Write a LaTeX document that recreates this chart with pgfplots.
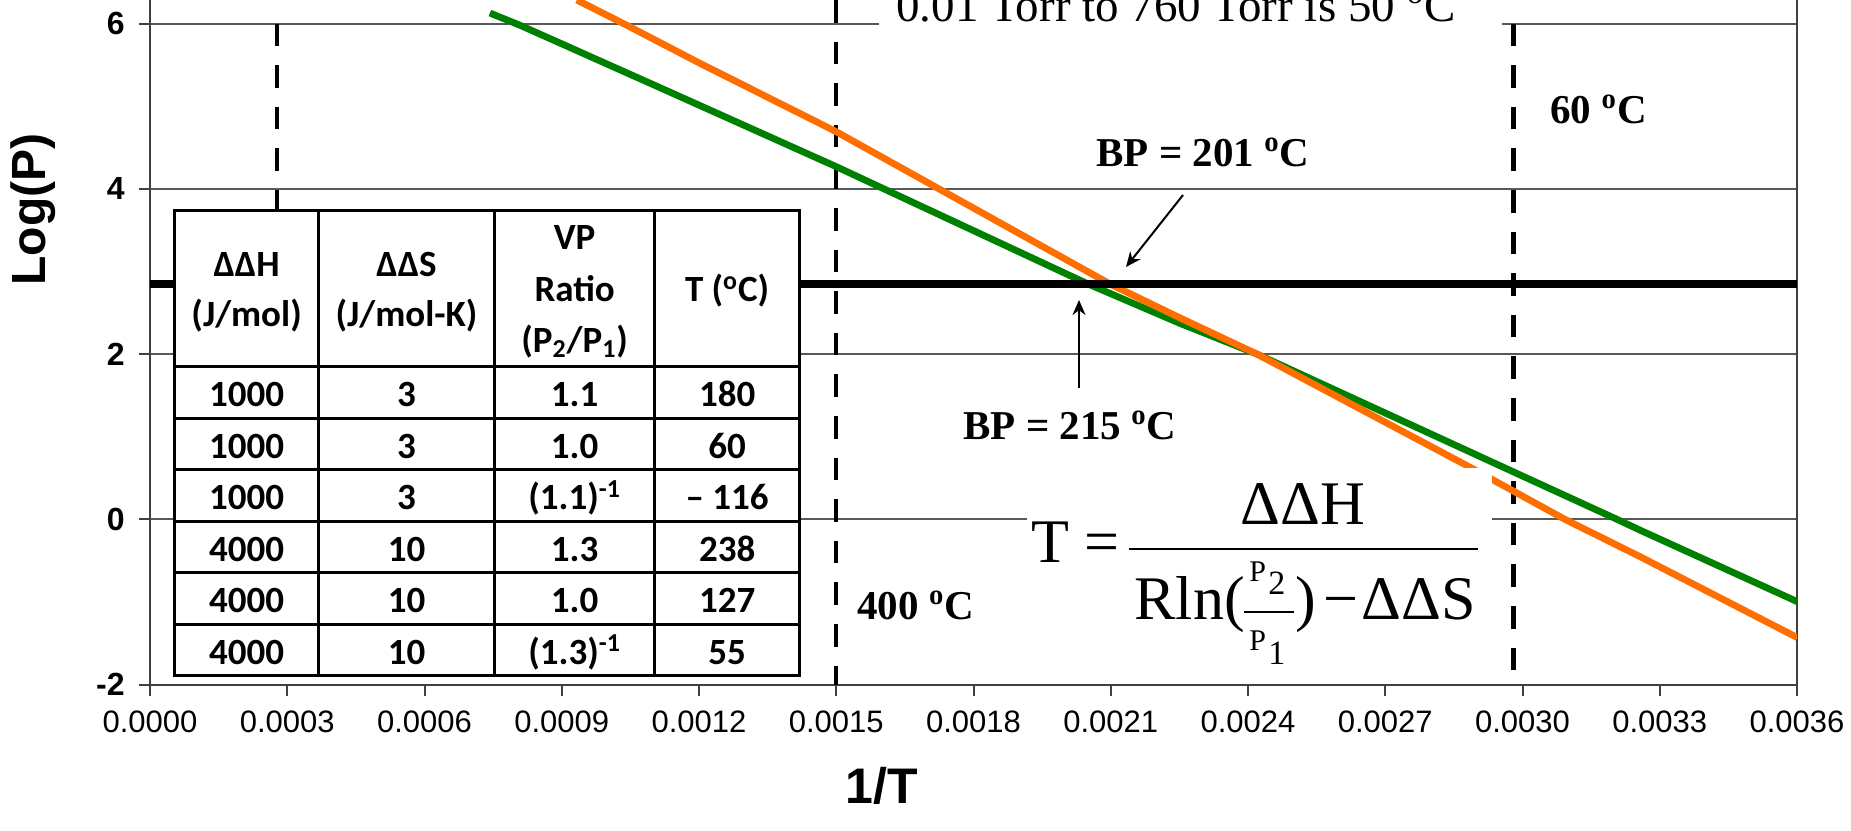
\documentclass[border=0pt]{standalone}
\usepackage{fontspec}
\setmainfont{Liberation Sans}
\newfontfamily\carl{Carlito}
\newfontfamily\tms{Liberation Serif}
\usepackage{pgfplots}
\usepackage{pgfplotstable}
\pgfplotsset{compat=1.18}
\usetikzlibrary{arrows.meta}
\definecolor{cgreen}{RGB}{0,128,0}
\definecolor{corange}{RGB}{255,110,0}

\pgfplotstableread{
x y
0.000743 6.128
0.000809 5.980
0.001137 5.170
0.001500 4.269
0.002050 2.850
0.002251 2.373
0.002420 2.000
0.002987 0.558
0.003207 0.000
0.003257 -0.130
0.003601 -0.996
}\greendata

\pgfplotstableread{
x y
0.000933 6.286
0.001038 5.992
0.001202 5.520
0.001500 4.692
0.002098 2.850
0.002251 2.440
0.002420 2.000
0.002879 0.650
0.003093 0.000
0.003257 -0.451
0.003601 -1.431
}\orangedata

\begin{document}
\begin{tikzpicture}
\begin{axis}[
  scale only axis, width=823.5pt, height=342.35pt,
  xmin=0, xmax=0.0036, ymin=-2, ymax=6.286,
  axis x line=bottom, axis y line=box, ytick pos=left,
  axis line style={-, black!75, line width=1pt},
  clip mode=individual,
  xtick={0,0.0003,0.0006,0.0009,0.0012,0.0015,0.0018,0.0021,0.0024,0.0027,0.0030,0.0033,0.0036},
  xticklabels={0.0000,0.0003,0.0006,0.0009,0.0012,0.0015,0.0018,0.0021,0.0024,0.0027,0.0030,0.0033,0.0036},
  ytick={-2,0,2,4,6}, yticklabels={-2,0,2,4,6},
  scaled x ticks=false,
  tick align=outside, major tick length=5.5pt,
  major tick style={black!75, line width=1pt},
  ymajorgrids, major grid style={black!65, line width=1pt},
  xticklabel style={font=\fontsize{15.5}{15.5}\selectfont, inner sep=0pt, anchor=north, yshift=-7.6pt},
  yticklabel style={font=\bfseries\fontsize{16}{16}\selectfont, inner sep=0pt, anchor=east, xshift=-7pt},
]
% dashed reference lines
\addplot[black, line width=2.2pt, dash pattern=on 11.3pt off 9.5pt] coordinates {(0.000277,6) (0.000277,-2)};
\addplot[black, line width=2.2pt, dash pattern=on 11.3pt off 9.5pt] coordinates {(0.0015,6.286) (0.0015,-2)};
\addplot[black, line width=2.2pt, dash pattern=on 11.3pt off 9.5pt] coordinates {(0.00298,6) (0.00298,-2)};
% curves
\addplot[cgreen, line width=3.4pt, line join=round] table[x=x,y=y] {\greendata};
\addplot[corange, line width=3.4pt, line join=round] table[x=x,y=y] {\orangedata};
% formula background
\fill[white] (axis cs:0.0019169,-1.895) rectangle (axis cs:0.0029333,0.6224);
% boiling point line
\addplot[black, line width=3.6pt] coordinates {(0,2.85) (0.0036,2.85)};
\coordinate (TL) at (axis cs:-0.00032787,6.286);
\end{axis}

\begin{scope}[shift={(TL)}, x=0.5pt, y=-0.5pt]
% table
\fill[white] (174.6,211) rectangle (799.4,675.7);
\begin{scope}[line width=1.5pt, line cap=rect]
\foreach \xx in {174.6,318.6,494.4,654.9,799.4} \draw (\xx,211) -- (\xx,675.7);
\foreach \yy in {211,366.7,418.2,469.7,521.2,572.7,624.2,675.7} \draw (174.6,\yy) -- (799.4,\yy);
\end{scope}
\begin{scope}[every node/.style={font=\carl\bfseries\fontsize{18.5}{18.5}\selectfont, anchor=base, inner sep=0pt}]
\node at (246.6,276.7) {ΔΔH};
\node at (246.6,326.7) {(J/mol)};
\node at (406.5,276.7) {ΔΔS};
\node at (406.5,326.7) {(J/mol-K)};
\node at (574.65,250) {VP};
\node at (574.65,301.7) {Ratio};
\node at (574.65,352.7) {(P\textsubscript{2}/P\textsubscript{1})};
\node at (727.15,301.7) {T (\textsuperscript{o}C)};
\foreach \yb/\a/\b/\c/\d in {406.7/1000/3/1.1/180, 458.2/1000/3/1.0/60, 509.7/1000/3/{(1.1)\textsuperscript{-1}}/{– 116}, 561.2/4000/10/1.3/238, 612.7/4000/10/1.0/127, 664.2/4000/10/{(1.3)\textsuperscript{-1}}/55}{
  \node at (246.6,\yb) {\a};
  \node at (406.5,\yb) {\b};
  \node at (574.65,\yb) {\c};
  \node at (727.15,\yb) {\d};
}
\end{scope}
% top text
\fill[white] (879,-20) rectangle (1502,36);
\node[anchor=base west, inner sep=0pt, font=\tms\fontsize{23.5}{23.5}\selectfont] at (896,21.7) {0.01 Torr to 760 Torr is 50 \textsuperscript{o}C};
% labels
\begin{scope}[every node/.style={anchor=base west, inner sep=0pt, font=\tms\bfseries\fontsize{20.5}{20.5}\selectfont}]
\node at (1550,123.3) {60 \textsuperscript{o}C};
\node at (1096,166.7) {BP = 201 \textsuperscript{o}C};
\node at (963,440) {BP = 215 \textsuperscript{o}C};
\node at (857,620) {400 \textsuperscript{o}C};
\end{scope}
\draw[-{Stealth[length=7.5pt,width=6.5pt]}, line width=1pt] (1183,195) -- (1126,267);
\draw[-{Stealth[length=7.5pt,width=6.5pt]}, line width=1pt] (1079,388) -- (1079,300);
% formula
\begin{scope}[every node/.style={inner sep=0pt, font=\tms\fontsize{31}{31}\selectfont}]
\node[anchor=base west] at (1031,563) {T =};
\node[anchor=base] at (1303,525) {ΔΔH};
\node[anchor=base west] at (1134,620) {Rln(};
\node[anchor=base west] at (1295,620) {)};
\node[anchor=base] at (1341,620) {−};
\node[anchor=base east] at (1476,620) {ΔΔS};
\end{scope}
\draw[line width=1.4pt] (1128.5,549) -- (1478.4,549);
\draw[line width=1pt] (1244,611.7) -- (1294,611.7);
\begin{scope}[every node/.style={inner sep=0pt, anchor=base west, font=\tms\fontsize{15}{15}\selectfont}]
\node at (1249,581) {P};
\node at (1249,651) {P};
\end{scope}
\begin{scope}[every node/.style={inner sep=0pt, anchor=base west, font=\tms\fontsize{17}{17}\selectfont}]
\node at (1268,594) {2};
\node at (1268,664) {1};
\end{scope}
% axis titles
\node[rotate=90, font=\bfseries\fontsize{24}{24}\selectfont] at (33.6,209.5) {Log(P)};
\node[font=\bfseries\fontsize{25}{25}\selectfont] at (882,786) {1/T};
\pgfresetboundingbox
\useasboundingbox (0,0) rectangle (1851,830);
\end{scope}
\end{tikzpicture}
\end{document}
